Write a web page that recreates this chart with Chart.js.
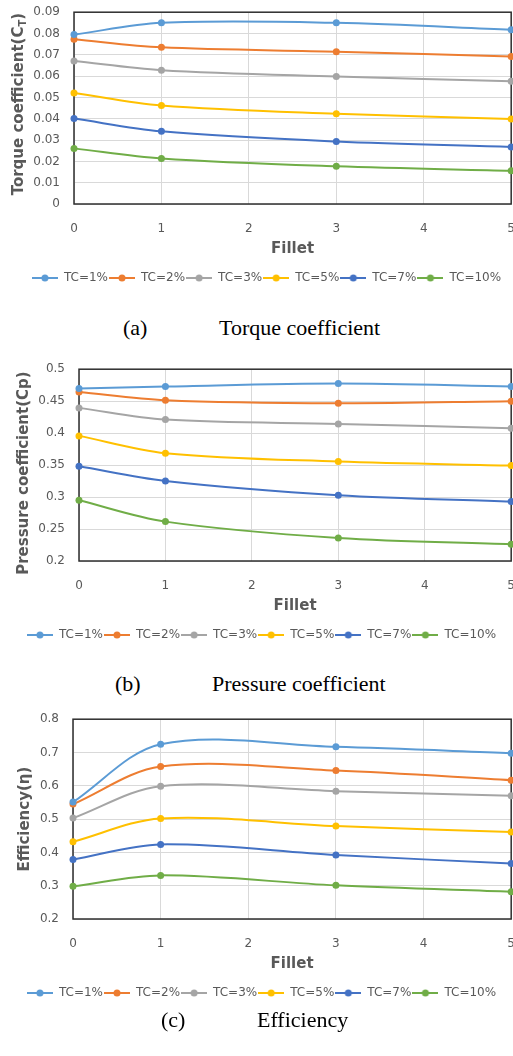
<!DOCTYPE html>
<html>
<head>
<meta charset="utf-8">
<script src="https://cdn.jsdelivr.net/npm/chart.js@4"></script>
<style>
html, body { margin: 0; padding: 0; background: #fff; overflow: hidden; width: 513px; height: 1056px; }
.box { position: absolute; left: 0; width: 533px; }
.cap { position: absolute; font-family: "Liberation Serif", "Times New Roman", serif; font-size: 22px; line-height: 1; color: #000; white-space: nowrap; }
</style>
</head>
<body>
<div class="box" style="top:-9px; height:303px"><canvas id="cTorque"></canvas></div>
<div class="cap" style="left:123px; top:317px">(a)</div>
<div class="cap" style="left:219px; top:317px">Torque coefficient</div>

<div class="box" style="top:348px; height:303px"><canvas id="cPressure"></canvas></div>
<div class="cap" style="left:115px; top:673px">(b)</div>
<div class="cap" style="left:212px; top:673px">Pressure coefficient</div>

<div class="box" style="top:698px; height:311px"><canvas id="cEff"></canvas></div>
<div class="cap" style="left:161px; top:1009px">(c)</div>
<div class="cap" style="left:257px; top:1009px">Efficiency</div>

<script>
/* 數據 */
var filletX = [0, 1, 3, 5];
var tcLabels = ['TC=1%', 'TC=2%', 'TC=3%', 'TC=5%', 'TC=7%', 'TC=10%'];
var tcColors = ['#5B9BD5', '#ED7D31', '#A5A5A5', '#FFC000', '#4472C4', '#70AD47'];

var torqueTC1  = [0.0795, 0.0850, 0.0850, 0.0818];
var torqueTC2  = [0.0773, 0.0735, 0.0715, 0.0692];
var torqueTC3  = [0.0671, 0.0628, 0.0598, 0.0576];
var torqueTC5  = [0.0521, 0.0462, 0.0423, 0.0399];
var torqueTC7  = [0.0401, 0.0341, 0.0293, 0.0268];
var torqueTC10 = [0.0261, 0.0214, 0.0177, 0.0156];

var pressureTC1  = [0.470, 0.473, 0.4776, 0.473];
var pressureTC2  = [0.4645, 0.4515, 0.4468, 0.450];
var pressureTC3  = [0.4395, 0.4212, 0.4144, 0.4077];
var pressureTC5  = [0.3957, 0.3685, 0.3555, 0.3492];
var pressureTC7  = [0.3482, 0.3252, 0.3028, 0.2929];
var pressureTC10 = [0.2950, 0.2616, 0.2360, 0.2261];

var effTC1  = [0.551, 0.725, 0.717, 0.698];
var effTC2  = [0.545, 0.658, 0.646, 0.617];
var effTC3  = [0.503, 0.599, 0.584, 0.570];
var effTC5  = [0.432, 0.502, 0.479, 0.461];
var effTC7  = [0.379, 0.424, 0.392, 0.367];
var effTC10 = [0.298, 0.331, 0.301, 0.282];

var txtColor = '#595959';
var fontFam = '"DejaVu Sans", Verdana, sans-serif';

/* 圖例圖示: 線 + 圓點 */
var legendIcons = tcColors.map(function (c) {
    var cv = document.createElement('canvas');
    cv.width = 26; cv.height = 8;
    var g = cv.getContext('2d');
    g.strokeStyle = c; g.lineWidth = 2;
    g.beginPath(); g.moveTo(0, 4); g.lineTo(26, 4); g.stroke();
    g.fillStyle = c;
    g.beginPath(); g.arc(13, 4, 3.5, 0, Math.PI * 2); g.fill();
    return cv;
});

/* 外框 */
var frameBox = {
    id: 'frameBox',
    beforeDatasetsDraw(chart) {
        var ctx = chart.ctx, a = chart.chartArea;
        ctx.save();
        ctx.strokeStyle = '#2e2e2e';
        ctx.lineWidth = 1.5;
        ctx.strokeRect(a.left, a.top, a.right - a.left, a.bottom - a.top);
        ctx.restore();
    }
};

/* Y 軸標題 (可含下標) */
var yTitle = {
    id: 'yTitle',
    afterDraw(chart, args, opts) {
        var ctx = chart.ctx, a = chart.chartArea;
        var parts = opts.parts;
        ctx.save();
        ctx.fillStyle = txtColor;
        ctx.textBaseline = 'middle';
        ctx.textAlign = 'left';
        var total = 0;
        parts.forEach(function (p) {
            ctx.font = (p.sub ? 'bold 10px ' : 'bold 15px ') + fontFam;
            p.w = ctx.measureText(p.t).width;
            total += p.w;
        });
        ctx.translate(opts.x, (a.top + a.bottom) / 2 + (opts.dy || 0));
        ctx.rotate(-Math.PI / 2);
        var x = -total / 2;
        parts.forEach(function (p) {
            ctx.font = (p.sub ? 'bold 10px ' : 'bold 15px ') + fontFam;
            ctx.fillText(p.t, x, p.sub ? 4 : 0);
            x += p.w;
        });
        ctx.restore();
    }
};

function toPoints(vals) {
    return vals.map(function (v, i) { return { x: filletX[i], y: v }; });
}

function makeChart(id, seriesList, yMin, yMax, yStep, yLeft, padL, titleParts, titleX, titleDy) {
    var datasets = seriesList.map(function (vals, i) {
        return {
            label: tcLabels[i],
            data: toPoints(vals),
            borderColor: tcColors[i],
            backgroundColor: tcColors[i],
            borderWidth: 2,
            pointRadius: 3.5,
            pointBorderWidth: 0,
            tension: 0.33,
            clip: false
        };
    });
    return new Chart(document.getElementById(id), {
        type: 'line',
        data: { datasets: datasets },
        plugins: [frameBox, yTitle],
        options: {
            responsive: true,
            maintainAspectRatio: false,
            animation: false,
            layout: { padding: { top: 12, right: 14, left: padL, bottom: 0 } },
            scales: {
                x: {
                    type: 'linear', min: 0, max: 5,
                    ticks: { stepSize: 1, padding: 18, color: txtColor, maxRotation: 0, font: { family: fontFam, size: 12 } },
                    grid: { color: '#d9d9d9', drawTicks: false },
                    border: { display: false },
                    title: { display: true, text: 'Fillet', color: txtColor, padding: { top: 0, bottom: 13 },
                             font: { family: fontFam, size: 15, weight: 'bold' } },
                    afterFit(s) { s.height = 67; }
                },
                y: {
                    min: yMin, max: yMax,
                    ticks: { stepSize: yStep, padding: 14, color: txtColor, font: { family: fontFam, size: 12 },
                             callback: function (v) { return String(Number(v.toFixed(3))); } },
                    grid: { color: '#d9d9d9', drawTicks: false },
                    border: { display: false },
                    afterFit(s) { s.width = yLeft - padL; }
                }
            },
            plugins: {
                tooltip: { enabled: false },
                yTitle: { parts: titleParts, x: titleX, dy: titleDy },
                legend: {
                    position: 'bottom',
                    labels: {
                        usePointStyle: true,
                        pointStyleWidth: 26,
                        padding: 1,
                        color: txtColor,
                        font: { family: fontFam, size: 12 },
                        generateLabels(chart) {
                            var items = Chart.defaults.plugins.legend.labels.generateLabels(chart);
                            items.forEach(function (it) { it.pointStyle = legendIcons[it.datasetIndex]; });
                            return items;
                        }
                    }
                }
            }
        }
    });
}

makeChart('cTorque',
    [torqueTC1, torqueTC2, torqueTC3, torqueTC5, torqueTC7, torqueTC10],
    0, 0.09, 0.01, 74, 14,
    [{ t: 'Torque coefficient(C' }, { t: 'T', sub: true }, { t: ')' }], 19, -4);

makeChart('cPressure',
    [pressureTC1, pressureTC2, pressureTC3, pressureTC5, pressureTC7, pressureTC10],
    0.2, 0.5, 0.05, 79, 4,
    [{ t: 'Pressure coefficient(Cp)' }], 24, 8);

makeChart('cEff',
    [effTC1, effTC2, effTC3, effTC5, effTC7, effTC10],
    0.2, 0.8, 0.1, 73, 4,
    [{ t: 'Efficiency(η)' }], 25, 0);
</script>
</body>
</html>
